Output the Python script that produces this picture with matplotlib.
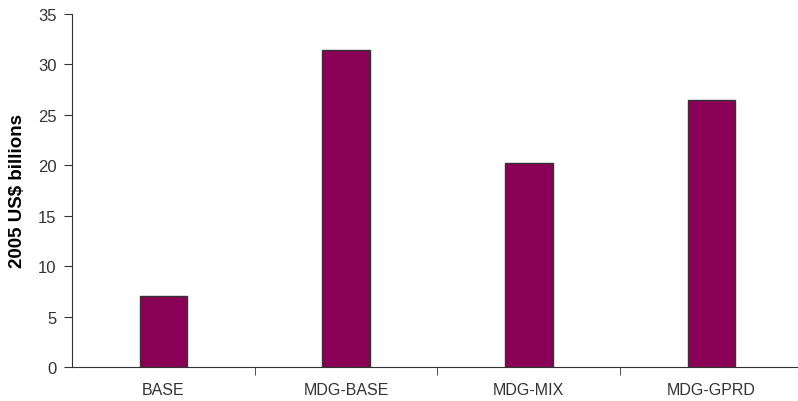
import matplotlib.pyplot as plt

scenarios = ['BASE', 'MDG-BASE', 'MDG-MIX', 'MDG-GPRD']
values = [7.0, 31.4, 20.2, 26.5]
yticks = [0, 5, 10, 15, 20, 25, 30, 35]

plt.rcParams['font.family'] = ['Liberation Sans', 'DejaVu Sans']

fig = plt.figure(figsize=(7.98, 4.02), dpi=100)
ax = fig.add_axes([72 / 798, 34 / 402, 731 / 798, 353 / 402])

x = range(len(scenarios))
ax.bar(x, values, width=0.26, color='#8B0057', edgecolor='#333333', linewidth=1)

ax.set_xlim(-0.5, len(scenarios) - 0.5)
ax.set_ylim(0, 35)
ax.set_yticks(yticks)
ax.set_xticks(list(x))
ax.set_xticklabels(scenarios)
ax.set_xticks([i + 0.5 for i in range(len(scenarios) - 1)], minor=True)
ax.tick_params(axis='x', which='major', length=0, pad=11, labelsize=11.5, labelcolor='#333333')
ax.tick_params(axis='x', which='minor', length=6, direction='out', color='#333333')
ax.tick_params(axis='y', length=6, direction='out', color='#333333', labelsize=12,
               labelcolor='#333333', pad=5)

for side in ['top', 'right']:
    ax.spines[side].set_visible(False)
for side in ['left', 'bottom']:
    ax.spines[side].set_color('#333333')

ax.set_ylabel('2005 US$ billions', fontsize=13.5, fontweight='bold', labelpad=9)

fig.savefig('out.png', dpi=100)
